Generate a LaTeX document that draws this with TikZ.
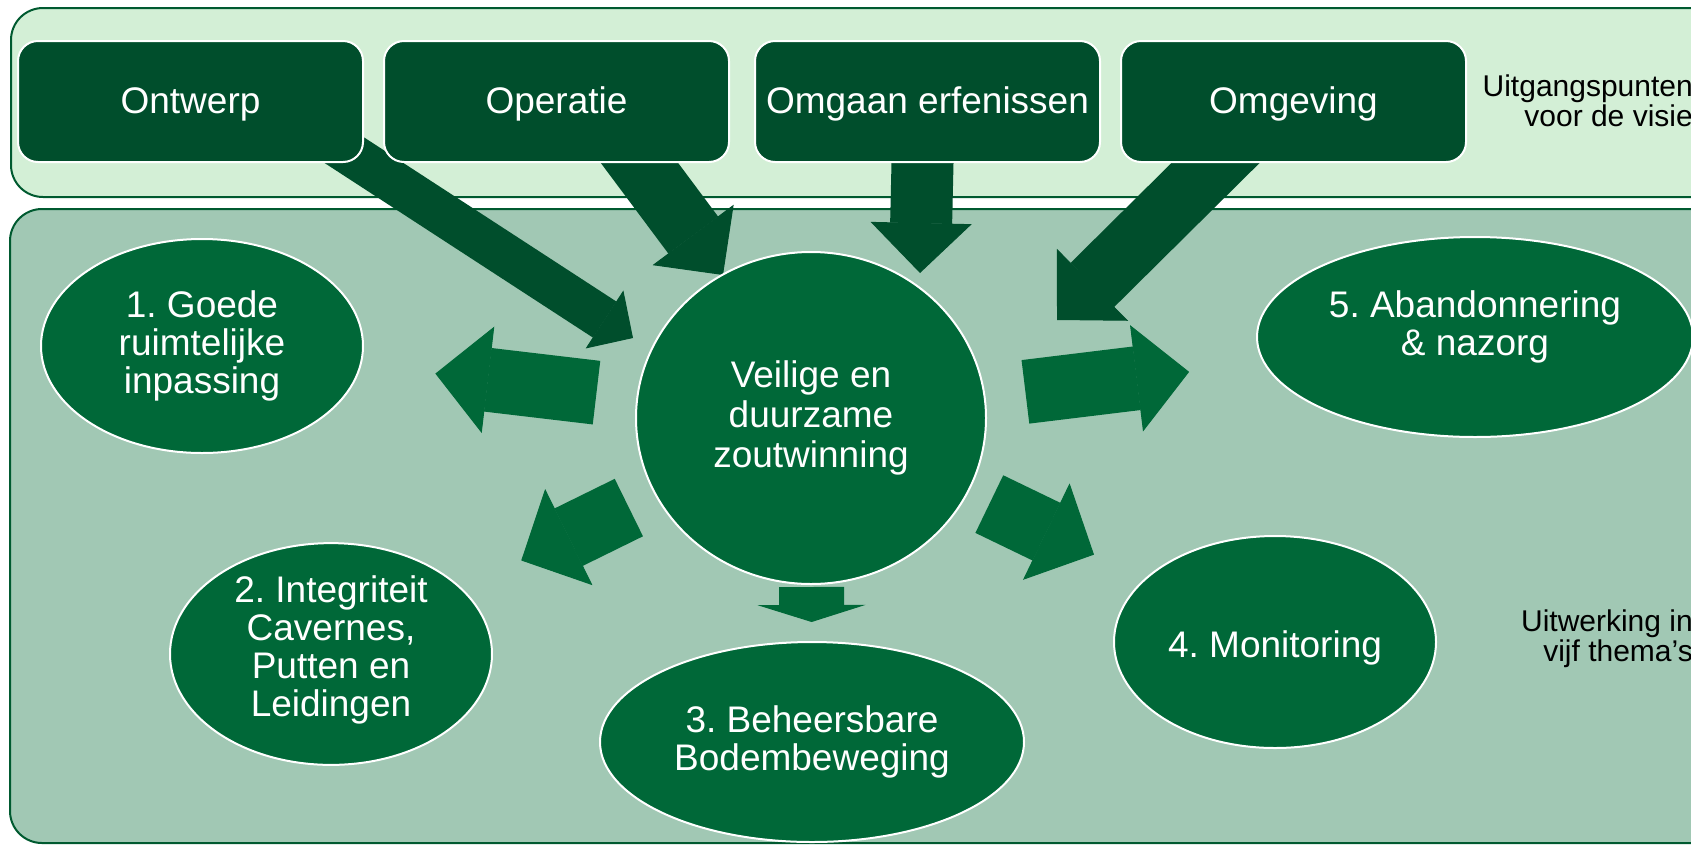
\documentclass[tikz,border=0pt]{standalone}
\usepackage{fontspec}
\setmainfont{Liberation Sans}
\usetikzlibrary{shapes.geometric,arrows.meta,positioning}
\frenchspacing
\definecolor{darkgreen}{RGB}{0,78,44}
\definecolor{midgreen}{RGB}{0,104,56}
\definecolor{rimgreen}{RGB}{0,90,48}
\definecolor{mintbg}{RGB}{211,239,214}
\definecolor{sagebg}{RGB}{161,200,180}
\pgfdeclarelayer{panels}
\pgfdeclarelayer{arrows}
\pgfsetlayers{panels,arrows,main}
\tikzset{
    panel/.style={
           draw=rimgreen,
           line width=2pt,
           rounded corners=32pt,
           },
    pillar/.style={
           rectangle,
           rounded corners=20pt,
           draw=white, line width=2pt,
           fill=darkgreen,
           text=white,
           minimum width=345pt,
           minimum height=121pt,
           inner sep=2pt,
           text height=24pt, text depth=0pt,
           font=\fontsize{37}{39}\selectfont,
           },
    theme/.style={
           ellipse,
           draw=white, line width=2pt,
           fill=midgreen,
           text=white,
           align=center,
           inner sep=0pt,
           font=\fontsize{37}{38}\selectfont,
           },
    inarrow/.style={
           draw=darkgreen,
           line width=62pt,
           -{Triangle[width=101pt,length=50pt,line width=1pt]},
           },
    outarrow/.style={
           draw=midgreen,
           line width=64pt,
           -{Triangle[width=107pt,length=53pt,line width=1pt]},
           },
    sidenote/.style={
           anchor=east,
           align=right,
           inner sep=0pt,
           font=\fontsize{30}{30}\selectfont,
           },
}

\begin{document}
\begin{tikzpicture}[x=1pt,y=-1pt]
    \useasboundingbox (0,0) rectangle (1691,844);

    % the two panels (they run on past the right edge)
    \begin{pgfonlayer}{panels}
        \draw[panel, fill=mintbg] (11,8) rectangle (1760,197);
        \draw[panel, fill=sagebg] (10,209) rectangle (1760,843);
    \end{pgfonlayer}

    % top row
    \node[pillar] (ontwerp) at (190.5,101.5) {Ontwerp};
    \node[pillar, right=19pt of ontwerp] (operatie) {Operatie};
    \node[pillar, right=24pt of operatie] (omgaan) {Omgaan erfenissen};
    \node[pillar, right=19pt of omgaan] (omgeving) {Omgeving};

    \node[sidenote] (uitgang) at (1693,101) {Uitgangspunten\\voor de visie};

    % the five themes round the core
    \node[theme, minimum width=350pt, minimum height=332pt,
        font=\fontsize{37}{40}\selectfont] (veilig) at (811,418)
        {Veilige en\\duurzame\\zoutwinning};
    \node[theme, minimum width=322pt, minimum height=214pt] (goede) at (202,346)
        {1. Goede\\ruimtelijke\\inpassing};
    \node[theme, minimum width=322pt, minimum height=212pt, text depth=16pt] (integriteit) at (331,654)
        {2. Integriteit\\Cavernes,\\Putten en\\Leidingen};
    \node[theme, minimum width=424pt, minimum height=200pt] (bodem) at (812,742)
        {3. Beheersbare\\Bodembeweging};
    \node[theme, minimum width=322pt, minimum height=212pt, text height=38pt] (monitoring) at (1275,642)
        {4. Monitoring};
    \node[theme, minimum width=436pt, minimum height=200pt, text depth=27pt] (abandon) at (1475,337)
        {5. Abandonnering\\\& nazorg};

    \node[sidenote] (uitwerking) at (1693,639) {Uitwerking in\\vijf thema’s};

    % arrow tips of the top row
    \coordinate (tipA) at (633,338);
    \coordinate (tipB) at (723,275);
    \coordinate (tipC) at (920,273);
    \coordinate (tipD) at (1057,320);

    \begin{pgfonlayer}{arrows}
        % top row into the core
        \draw[inarrow, line width=43pt, -{Triangle[width=69pt,length=34pt,line width=1pt]},
            shorten <=-60pt] (ontwerp.south east) -- (tipA);
        \draw[inarrow, shorten <=-80pt] ([xshift=83pt]operatie.south) -- (tipB);
        \draw[inarrow, shorten <=-60pt] ([xshift=-5pt]omgaan.south) -- (tipC);
        \draw[inarrow, shorten <=-80pt] ([xshift=-78pt]omgeving.south) -- (tipD);

        % core out to the themes
        \draw[outarrow, shorten <=216pt, shorten >=235pt] (veilig.center) -- (goede.center);
        \draw[outarrow, shorten <=203pt, shorten >=212pt] (veilig.center) -- (integriteit.center);
        \draw[outarrow, line width=65pt, -{Triangle[width=108pt,length=17pt,line width=1pt]},
            shorten <=169pt, shorten >=120pt] (veilig.center) -- (bodem.center);
        \draw[outarrow, shorten <=198pt, shorten >=201pt] (veilig.center) -- (monitoring.center);
        \draw[outarrow, shorten <=216pt, shorten >=288pt] (veilig.center) -- (abandon.center);
    \end{pgfonlayer}
\end{tikzpicture}
\end{document}
